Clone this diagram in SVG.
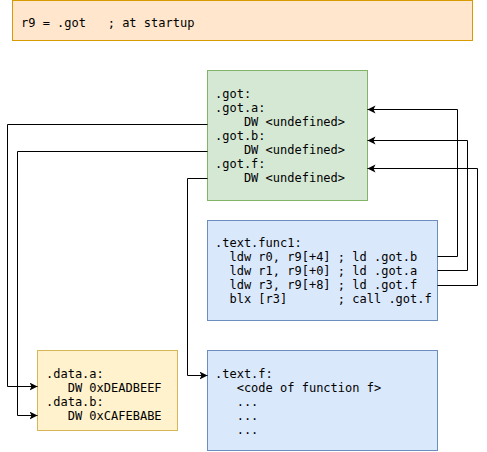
<svg xmlns="http://www.w3.org/2000/svg" width="487" height="452" viewBox="0 0 487 452">
<defs>
<style>
text { font-family: "DejaVu Sans Mono", "Liberation Mono", monospace; font-size: 12px; fill: #000; white-space: pre; }
.edge { fill: none; stroke: #000; stroke-width: 1; }
</style>
<marker id="arr" markerWidth="10" markerHeight="10" refX="8" refY="4" orient="auto" markerUnits="userSpaceOnUse">
<path d="M0,0 L8,4 L0,8 L2,4 Z" fill="#000"/>
</marker>
</defs>
<rect width="487" height="452" fill="#fff"/>
<g id="startup">
<rect x="12.5" y="0.5" width="460" height="40" fill="#ffe6cc" stroke="#d79b00"/>
<text x="21" y="27" xml:space="preserve">r9 = .got   ; at startup</text>
</g>
<g id="got">
<rect x="207.5" y="70.5" width="160" height="130" fill="#d5e8d4" stroke="#82b366"/>
<text x="215" y="98" xml:space="preserve">.got:</text>
<text x="215" y="112" xml:space="preserve">.got.a:</text>
<text x="215" y="126" xml:space="preserve">    DW &lt;undefined&gt;</text>
<text x="215" y="140" xml:space="preserve">.got.b:</text>
<text x="215" y="154" xml:space="preserve">    DW &lt;undefined&gt;</text>
<text x="215" y="168" xml:space="preserve">.got.f:</text>
<text x="215" y="182" xml:space="preserve">    DW &lt;undefined&gt;</text>
</g>
<g id="func1">
<rect x="207.5" y="220.5" width="230" height="100" fill="#dae8fc" stroke="#6c8ebf"/>
<text x="215" y="247" xml:space="preserve">.text.func1:</text>
<text x="215" y="261" xml:space="preserve">  ldw r0, r9[+4] ; ld .got.b</text>
<text x="215" y="275" xml:space="preserve">  ldw r1, r9[+0] ; ld .got.a</text>
<text x="215" y="289" xml:space="preserve">  ldw r3, r9[+8] ; ld .got.f</text>
<text x="215" y="303" xml:space="preserve">  blx [r3]       ; call .got.f</text>
</g>
<g id="data">
<rect x="37.5" y="350.5" width="140" height="80" fill="#fff2cc" stroke="#d6b656"/>
<text x="46" y="378" xml:space="preserve">.data.a:</text>
<text x="46" y="392" xml:space="preserve">   DW 0xDEADBEEF</text>
<text x="46" y="406" xml:space="preserve">.data.b:</text>
<text x="46" y="420" xml:space="preserve">   DW 0xCAFEBABE</text>
</g>
<g id="textf">
<rect x="207.5" y="350.5" width="230" height="100" fill="#dae8fc" stroke="#6c8ebf"/>
<text x="215" y="378" xml:space="preserve">.text.f:</text>
<text x="215" y="392" xml:space="preserve">   &lt;code of function f&gt;</text>
<text x="215" y="406" xml:space="preserve">   ...</text>
<text x="215" y="420" xml:space="preserve">   ...</text>
<text x="215" y="434" xml:space="preserve">   ...</text>
</g>
<g id="connectors">
<path class="edge" d="M207.5,124.5 H7.5 V386.5 H37.5" marker-end="url(#arr)"/>
<path class="edge" stroke="#444" d="M207.5,151.5 H17.5 V415.5 H37.5" marker-end="url(#arr)"/>
<path class="edge" d="M207.5,178.5 H187.5 V375.5 H207.5" marker-end="url(#arr)"/>
<path class="edge" d="M437.5,256.5 H457.5 V109.5 H367.5" marker-end="url(#arr)"/>
<path class="edge" d="M437.5,270.5 H467.5 V140.5 H367.5" marker-end="url(#arr)"/>
<path class="edge" d="M437.5,285.5 H477.5 V168.5 H367.5" marker-end="url(#arr)"/>
</g>
</svg>
